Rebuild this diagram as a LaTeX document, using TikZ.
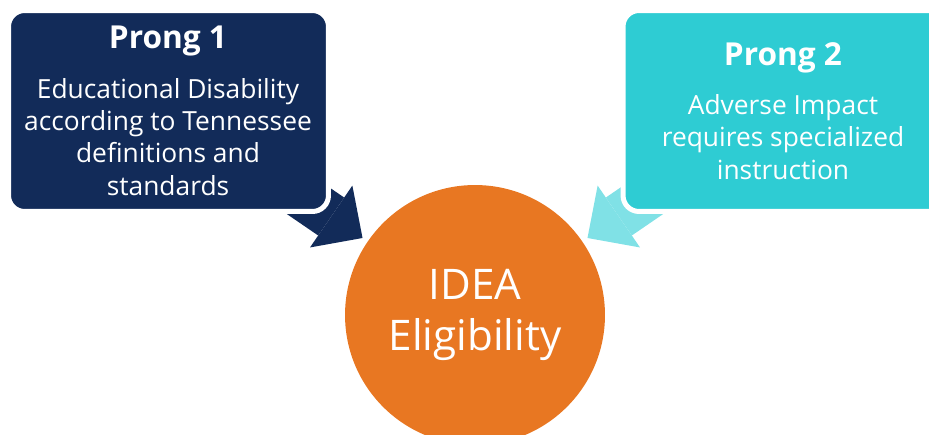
\documentclass[tikz,border=0pt]{standalone}
\usepackage{fontspec}
\setmainfont{Open Sans}
\usetikzlibrary{arrows.meta}
\definecolor{prongnavy}{HTML}{122B59}
\definecolor{prongcyan}{HTML}{2ECCD3}
\definecolor{arrowcyan}{HTML}{80E1E6}
\definecolor{ideaorange}{HTML}{E87722}
\tikzset{
	prongbox/.style={draw=white, line width=0.1cm, rounded corners=0.32cm, minimum width=6.4cm, minimum height=4.02cm, inner sep=0pt},
	prongtitle/.style={text=white, font=\fontsize{18}{21}\selectfont\bfseries, anchor=base},
	prongtext/.style={text=white, font=\fontsize{15}{18.4}\selectfont, align=center, anchor=base},
	prongarrow/.style={line width=0.92cm, -{Triangle[length=0.76cm, width=1.5cm, line width=0pt]}, shorten >=0.12cm},
}
\begin{document}
\begin{tikzpicture}[x=0.02cm, y=0.02cm]
	\useasboundingbox (0,0) rectangle (929,434);
	\clip (0,0) rectangle (929,434);
	% centre
	\node[circle, fill=ideaorange, minimum size=5.2cm, inner sep=0pt, text=white, align=center, font=\fontsize{24}{29}\selectfont] (idea) at (475,119) {IDEA\\Eligibility};
	% arrows, tails hidden under the boxes
	\coordinate (p1tail) at (272,258);
	\coordinate (p2tail) at (678,258);
	\draw[prongarrow, prongnavy] (p1tail) -- (idea);
	\draw[prongarrow, arrowcyan] (p2tail) -- (idea);
	% prong 1 (base = last line)
	\node[prongbox, fill=prongnavy] (p1box) at (168.5,323) {};
	\node[prongtitle] (p1title) at (168,386) {Prong 1};
	\node[prongtext] (p1text) at (168,239) {Educational Disability\\according to Tennessee\\definitions and\\standards};
	% prong 2
	\node[prongbox, fill=prongcyan] (p2box) at (783,323) {};
	\node[prongtitle] (p2title) at (783,369) {Prong 2};
	\node[prongtext] (p2text) at (783,255) {Adverse Impact\\requires specialized\\instruction};
\end{tikzpicture}
\end{document}
